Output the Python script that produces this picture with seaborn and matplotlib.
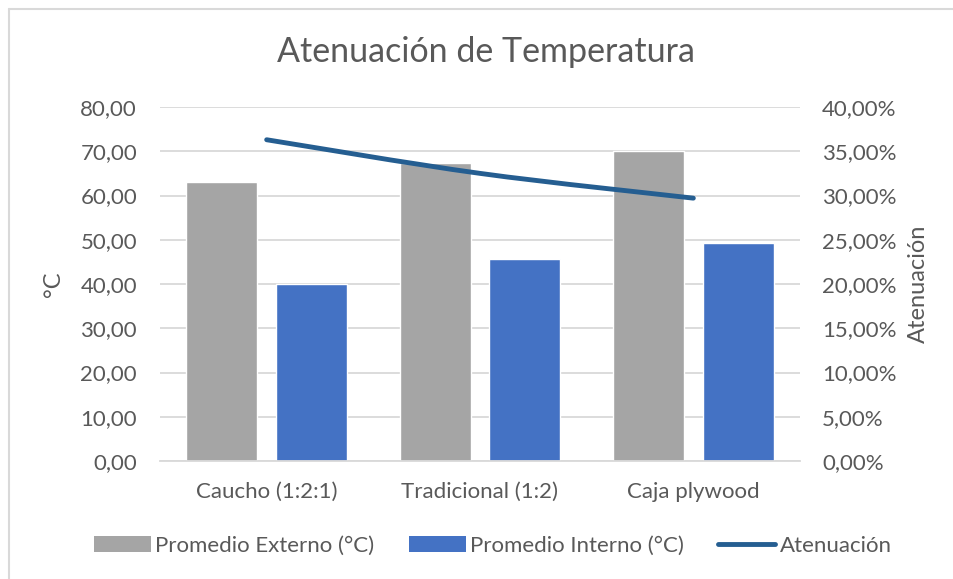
import numpy as np
import pandas as pd
import seaborn as sns
import matplotlib
matplotlib.use("Agg")
import matplotlib.pyplot as plt
from matplotlib.path import Path
from matplotlib.patches import PathPatch, Patch
from matplotlib.lines import Line2D
from matplotlib.ticker import FuncFormatter

# --- data ---
categorias = ["Caucho (1:2:1)", "Tradicional (1:2)", "Caja plywood"]
promedio_externo = [63.0, 67.3, 70.1]
promedio_interno = [40.1, 45.6, 49.2]
atenuacion = [0.363, 0.325, 0.297]

serie_ext = "Promedio Externo (°C)"
serie_int = "Promedio Interno (°C)"
serie_aten = "Atenuación"

df = pd.DataFrame({
    "categoria": categorias * 2,
    "valor": promedio_externo + promedio_interno,
    "serie": [serie_ext] * 3 + [serie_int] * 3,
})

GRIS = "#A5A5A5"
AZUL = "#4472C4"
AZUL_OSCURO = "#255E91"
TEXTO = "#595959"
REJILLA = "#D9D9D9"
FS = 16

sns.set_theme(style="white")
plt.rcParams["font.family"] = ["Lato", "DejaVu Sans"]

fig = plt.figure(figsize=(9.54, 5.79), dpi=100)
ax = fig.add_axes([160 / 954, 1 - 461 / 579, 640 / 954, 354 / 579])

sns.barplot(data=df, x="categoria", y="valor", hue="serie",
            palette=[GRIS, AZUL], width=0.84, gap=0.21,
            saturation=1, ax=ax, legend=False, zorder=2)

ax.set_ylim(0, 80)
ax.set_yticks(np.arange(0, 81, 10))
ax.yaxis.set_major_formatter(FuncFormatter(lambda v, _: f"{v:.2f}".replace(".", ",")))
ax.set_xlim(-0.5, 2.5)
ax.grid(axis="y", color=REJILLA, linewidth=1.3, zorder=0)
ax.set_axisbelow(True)
for s in ["top", "right", "left"]:
    ax.spines[s].set_visible(False)
ax.spines["bottom"].set_color(REJILLA)
ax.spines["bottom"].set_linewidth(1.3)
ax.tick_params(axis="both", length=0, labelsize=FS, colors=TEXTO)
ax.tick_params(axis="y", pad=16.5)
ax.tick_params(axis="x", pad=15)
ax.set_xlabel("")
ax.set_ylabel("°C", fontsize=17, color=TEXTO, labelpad=12)

# secondary axis for the attenuation line
ax2 = ax.twinx()
ax2.set_ylim(0, 0.40)
ax2.set_yticks(np.arange(0, 0.401, 0.05))
ax2.yaxis.set_major_formatter(FuncFormatter(lambda v, _: f"{v * 100:.2f}%".replace(".", ",")))
for s in ax2.spines.values():
    s.set_visible(False)
ax2.tick_params(axis="y", length=0, labelsize=FS, colors=TEXTO, pad=16)
ax2.set_ylabel("Atenuación", fontsize=17, color=TEXTO, labelpad=8)

# smoothed line (Catmull-Rom converted to cubic Bezier segments)
xs = np.arange(len(atenuacion), dtype=float)
ys = np.array(atenuacion, dtype=float)
pts = np.column_stack([xs, ys])
ext = np.vstack([pts[0], pts, pts[-1]])
verts = [tuple(pts[0])]
codes = [Path.MOVETO]
for i in range(len(pts) - 1):
    p0, p1, p2, p3 = ext[i], ext[i + 1], ext[i + 2], ext[i + 3]
    c1 = p1 + (p2 - p0) / 6
    c2 = p2 - (p3 - p1) / 6
    verts += [tuple(c1), tuple(c2), tuple(p2)]
    codes += [Path.CURVE4] * 3
ax2.add_patch(PathPatch(Path(verts, codes), facecolor="none", edgecolor=AZUL_OSCURO,
                        linewidth=3.5, capstyle="round", joinstyle="round", zorder=3))

ax.set_zorder(0)
ax2.set_zorder(1)

fig.suptitle("Atenuación de Temperatura", x=486 / 954, y=1 - 52 / 579, va="center",
             fontsize=24.5, color=TEXTO)

handles = [
    Patch(facecolor=GRIS, edgecolor="none", label=serie_ext),
    Patch(facecolor=AZUL, edgecolor="none", label=serie_int),
    Line2D([], [], color=AZUL_OSCURO, linewidth=3.5, solid_capstyle="round", label=serie_aten),
]
fig.legend(handles=handles, loc="center", bbox_to_anchor=(493 / 954, 1 - 546 / 579),
           ncol=3, frameon=False, fontsize=FS, labelcolor=TEXTO,
           handlelength=2.55, handleheight=0.75, handletextpad=0.2, columnspacing=1.55)

# chart border
fig.add_artist(Line2D([9 / 954, 9 / 954], [0, 1 - 9 / 579], transform=fig.transFigure,
                      color=REJILLA, linewidth=1.5))
fig.add_artist(Line2D([9 / 954, 1], [1 - 9 / 579, 1 - 9 / 579], transform=fig.transFigure,
                      color=REJILLA, linewidth=1.5))

fig.savefig("out.png", dpi=100, facecolor="white")
